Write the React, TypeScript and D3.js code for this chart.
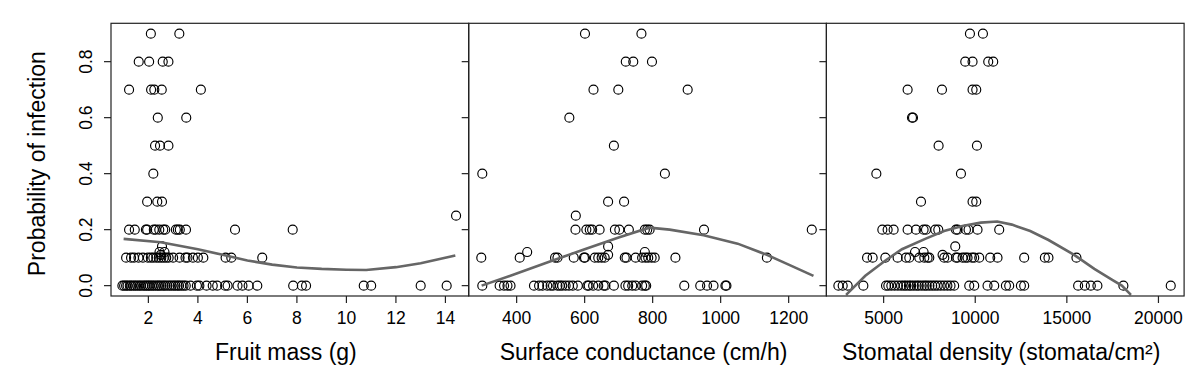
import React from 'react'
import * as d3 from 'd3'

// rows of points: [probability, x values at that probability]
const massRows: [number, number[]][] = [
  [0.9, [2.1, 3.25]],
  [0.8, [1.61, 2.03, 2.58, 2.81]],
  [0.7, [1.22, 2.11, 2.24, 2.54, 4.12]],
  [0.6, [2.38, 3.53]],
  [0.5, [2.27, 2.47, 2.81]],
  [0.4, [2.2]],
  [0.3, [1.95, 2.36, 2.55]],
  [0.25, [14.43]],
  [0.2, [1.22, 1.45, 1.9, 1.95, 2.22, 2.3, 2.44, 2.6, 2.68, 3.11, 3.19, 3.27, 3.52, 5.5, 7.83]],
  [0.14, [2.55]],
  [0.12, [2.45, 2.65]],
  [0.11, [2.5]],
  [0.1, [1.1, 1.3, 1.42, 1.6, 1.78, 1.98, 2.1, 2.2, 2.32, 2.42, 2.52, 2.62, 2.72, 2.82, 3.0, 3.26, 3.5, 3.58, 3.8, 4.0, 4.22, 5.12, 5.35, 6.6]],
  [0, [0.95, 1.02, 1.1, 1.16, 1.25, 1.31, 1.4, 1.47, 1.55, 1.63, 1.7, 1.79, 1.86, 1.93, 2.0, 2.06, 2.14, 2.21, 2.29, 2.37, 2.43, 2.51, 2.6, 2.67, 2.76, 2.85, 2.93, 3.02, 3.09, 3.18, 3.24, 3.33, 3.42, 3.51, 3.7, 3.96, 4.06, 4.35, 4.6, 4.78, 5.1, 5.2, 5.6, 5.8, 6.05, 6.4, 7.85, 8.2, 8.37, 10.7, 11.0, 13.0, 14.05]],
]

const condRows: [number, number[]][] = [
  [0.9, [601, 767]],
  [0.8, [721, 743, 798]],
  [0.7, [626, 699, 903]],
  [0.6, [555]],
  [0.5, [686]],
  [0.4, [299, 836]],
  [0.3, [669, 716]],
  [0.25, [574]],
  [0.2, [573, 605, 615, 622, 644, 689, 702, 730, 777, 784, 791, 951, 1268]],
  [0.14, [669]],
  [0.12, [431, 777]],
  [0.11, [669]],
  [0.1, [296, 409, 513, 520, 568, 598, 601, 630, 640, 650, 659, 718, 723, 750, 769, 779, 787, 797, 806, 867, 1136]],
  [0, [299, 350, 363, 373, 382, 451, 466, 476, 490, 500, 507, 520, 527, 534, 544, 554, 565, 580, 608, 612, 625, 640, 656, 661, 686, 720, 728, 740, 750, 769, 777, 781, 893, 940, 960, 979, 1014, 1017]],
]

const stomaRows: [number, number[]][] = [
  [0.9, [9711, 10420]],
  [0.8, [9455, 9853, 10709, 10981]],
  [0.7, [6309, 8184, 9853, 10055]],
  [0.6, [6548, 6603]],
  [0.5, [8000, 10093]],
  [0.4, [4602, 9220]],
  [0.3, [7039, 9853, 10055]],
  [0.2, [4929, 5218, 5545, 6309, 6766, 7181, 7312, 7820, 7983, 8948, 9035, 9493, 9635, 10125, 11309]],
  [0.14, [8910]],
  [0.12, [6712, 7181]],
  [0.11, [8217]],
  [0.1, [4095, 4400, 5093, 5763, 6221, 6401, 6947, 7219, 7399, 7492, 8310, 8490, 8948, 9035, 9308, 9455, 9580, 9820, 9945, 10218, 10818, 11216, 12672, 13800, 13997, 15524]],
  [0, [2530, 2765, 3037, 3893, 5131, 5256, 5420, 5600, 5780, 5950, 6100, 6230, 6380, 6500, 6650, 6800, 6920, 7080, 7230, 7350, 7500, 7650, 7800, 7950, 8120, 8300, 8480, 8650, 8850, 9673, 9945, 10671, 11036, 11674, 11854, 12492, 12672, 15616, 15981, 16308, 16668, 18086, 20671]],
]

// fitted curves [x, p]
const massFit: [number, number][] = [
  [1.0, 0.167], [2.5, 0.155], [4.0, 0.13], [5.0, 0.11], [6.0, 0.09], [7.0, 0.075], [8.0, 0.065],
  [9.0, 0.06], [10.0, 0.057], [10.8, 0.056], [12.0, 0.066], [13.0, 0.08], [14.4, 0.108],
]
const condFit: [number, number][] = [
  [297, 0.0], [400, 0.043], [500, 0.087], [600, 0.13], [700, 0.172], [790, 0.207], [850, 0.2],
  [950, 0.18], [1050, 0.15], [1136, 0.11], [1200, 0.075], [1273, 0.035],
]
const stomaFit: [number, number][] = [
  [2950, -0.033], [4000, 0.035], [5100, 0.09], [6000, 0.13], [7300, 0.168], [8300, 0.195], [9300, 0.213],
  [10300, 0.225], [11200, 0.229], [12000, 0.218], [13000, 0.195], [14000, 0.163], [15400, 0.11],
  [16500, 0.06], [17500, 0.02], [18000, 0.0], [18500, -0.033],
]

const yTicks = [0, 0.2, 0.4, 0.6, 0.8]
const massTicks = [2, 4, 6, 8, 10, 12, 14]
const condTicks = [400, 600, 800, 1000, 1200]
const stomaTicks = [5000, 10000, 15000, 20000]

const panels = [
  { id: 'mass', rows: massRows, fit: massFit, ticks: massTicks, domain: [0.49, 14.94], title: 'Fruit mass (g)' },
  { id: 'cond', rows: condRows, fit: condFit, ticks: condTicks, domain: [259, 1311], title: 'Surface conductance (cm/h)' },
  { id: 'stoma', rows: stomaRows, fit: stomaFit, ticks: stomaTicks, domain: [1876, 21400], title: 'Stomatal density (stomata/cm²)' },
]

const W = 1200
const H = 385
const left = 111
const panelW = 357.7
const top = 23.3
const bottom = 296
const font = 'Liberation Sans, Arial, sans-serif'

export default function App() {
  const y = d3.scaleLinear().domain([-0.037, 0.937]).range([bottom, top])

  return (
    <svg width={W} height={H} style={{ position: 'absolute', left: 0, top: 0, background: '#fff' }} fontFamily={font}>
      <defs>
        {panels.map((p, i) => (
          <clipPath id={'clip-' + p.id} key={p.id}>
            <rect x={left + i * panelW} y={top} width={panelW} height={bottom - top} />
          </clipPath>
        ))}
      </defs>

      {/* y axis labels */}
      {yTicks.map((t) => (
        <text key={t} transform={`translate(92, ${y(t)}) rotate(-90)`} textAnchor="middle" fontSize={17.5} fill="#000">
          {t.toFixed(1)}
        </text>
      ))}
      <text transform={`translate(45, ${(top + bottom) / 2 + 4}) rotate(-90)`} textAnchor="middle" fontSize={23} fill="#000">
        Probability of infection
      </text>

      {panels.map((p, i) => {
        const x0 = left + i * panelW
        const x = d3.scaleLinear().domain(p.domain).range([x0, x0 + panelW])
        const pts = p.rows.flatMap(([pv, xs]) => xs.map((xv) => [xv, pv]))
        const line = d3
          .line<[number, number]>()
          .x((d) => x(d[0]))
          .y((d) => y(d[1]))
        return (
          <g key={p.id}>
            <g clipPath={`url(#clip-${p.id})`}>
              {pts.map((d, j) => (
                <circle key={j} cx={x(d[0])} cy={y(d[1])} r={4.5} fill="none" stroke="#000" strokeWidth={1.15} />
              ))}
              <path d={line(p.fit) || ''} fill="none" stroke="#666" strokeWidth={2.6} />
            </g>
            <rect x={x0} y={top} width={panelW} height={bottom - top} fill="none" stroke="#222" strokeWidth={1.2} />
            {yTicks.map((t) => (
              <line key={t} x1={x0 - 7} x2={x0} y1={y(t)} y2={y(t)} stroke="#222" strokeWidth={1.2} />
            ))}
            {p.ticks.map((t) => (
              <g key={t}>
                <line x1={x(t)} x2={x(t)} y1={bottom} y2={bottom + 7} stroke="#222" strokeWidth={1.2} />
                <text x={x(t)} y={323.5} textAnchor="middle" fontSize={17.5} fill="#000">
                  {t}
                </text>
              </g>
            ))}
            <text x={x0 + panelW / 2 - 4} y={360} textAnchor="middle" fontSize={23} fill="#000">
              {p.title}
            </text>
          </g>
        )
      })}
    </svg>
  )
}
